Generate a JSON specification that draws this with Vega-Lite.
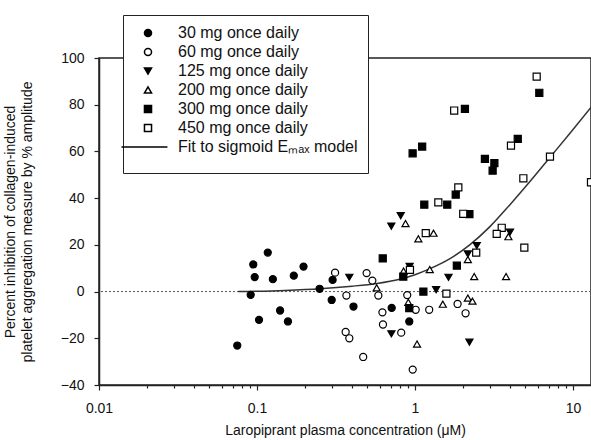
{
  "$schema": "https://vega.github.io/schema/vega-lite/v6.json",
  "width": 492,
  "height": 327,
  "autosize": {"type": "none"},
  "padding": {"left": 99, "top": 58, "right": 0, "bottom": 55},
  "background": "white",
  "config": {
    "font": "Liberation Sans",
    "view": {"stroke": "#222", "strokeWidth": 1.5},
    "axis": {
      "domainColor": "#222", "domainWidth": 1.5,
      "tickColor": "#222", "tickWidth": 1.2,
      "labelFont": "Liberation Sans", "labelFontSize": 14, "labelColor": "#111",
      "titleFont": "Liberation Sans", "titleFontSize": 14, "titleFontWeight": "normal", "titleColor": "#111",
      "grid": false
    }
  },
  "datasets": {
    "fit": [
      {"conc": 0.076, "inhibition": 0.0},
      {"conc": 0.15, "inhibition": 0.5},
      {"conc": 0.25, "inhibition": 1.2},
      {"conc": 0.4, "inhibition": 2.3},
      {"conc": 0.575, "inhibition": 3.5},
      {"conc": 0.8, "inhibition": 5.3},
      {"conc": 1.0, "inhibition": 7.2},
      {"conc": 1.245, "inhibition": 9.8},
      {"conc": 1.666, "inhibition": 14.1},
      {"conc": 2.23, "inhibition": 20.1},
      {"conc": 2.98, "inhibition": 27.8},
      {"conc": 3.99, "inhibition": 37.2},
      {"conc": 5.34, "inhibition": 47.1},
      {"conc": 7.14, "inhibition": 57.4},
      {"conc": 9.57, "inhibition": 67.8},
      {"conc": 13.0, "inhibition": 78.9}
    ],
    "points": [
      {"dose": "30 mg once daily", "conc": 0.075, "inhibition": -23.1},
      {"dose": "30 mg once daily", "conc": 0.0912, "inhibition": -1.4},
      {"dose": "30 mg once daily", "conc": 0.0947, "inhibition": 11.6},
      {"dose": "30 mg once daily", "conc": 0.0967, "inhibition": 6.2},
      {"dose": "30 mg once daily", "conc": 0.103, "inhibition": -12.1},
      {"dose": "30 mg once daily", "conc": 0.117, "inhibition": 16.7},
      {"dose": "30 mg once daily", "conc": 0.126, "inhibition": 5.3},
      {"dose": "30 mg once daily", "conc": 0.14, "inhibition": -8.1},
      {"dose": "30 mg once daily", "conc": 0.157, "inhibition": -12.8},
      {"dose": "30 mg once daily", "conc": 0.171, "inhibition": 6.8},
      {"dose": "30 mg once daily", "conc": 0.197, "inhibition": 10.7},
      {"dose": "30 mg once daily", "conc": 0.249, "inhibition": 1.2},
      {"dose": "30 mg once daily", "conc": 0.301, "inhibition": 5.0},
      {"dose": "30 mg once daily", "conc": 0.297, "inhibition": -3.6},
      {"dose": "30 mg once daily", "conc": 0.408, "inhibition": -6.4},
      {"dose": "30 mg once daily", "conc": 0.712, "inhibition": -7.0},
      {"dose": "30 mg once daily", "conc": 0.92, "inhibition": -12.8},

      {"dose": "60 mg once daily", "conc": 0.312, "inhibition": 8.1},
      {"dose": "60 mg once daily", "conc": 0.368, "inhibition": -1.7},
      {"dose": "60 mg once daily", "conc": 0.364, "inhibition": -17.3},
      {"dose": "60 mg once daily", "conc": 0.384, "inhibition": -20.0},
      {"dose": "60 mg once daily", "conc": 0.47, "inhibition": -28.0},
      {"dose": "60 mg once daily", "conc": 0.494, "inhibition": 7.9},
      {"dose": "60 mg once daily", "conc": 0.537, "inhibition": 4.7},
      {"dose": "60 mg once daily", "conc": 0.586, "inhibition": -1.7},
      {"dose": "60 mg once daily", "conc": 0.622, "inhibition": -8.9},
      {"dose": "60 mg once daily", "conc": 0.627, "inhibition": -14.1},
      {"dose": "60 mg once daily", "conc": 0.818, "inhibition": -17.6},
      {"dose": "60 mg once daily", "conc": 0.893, "inhibition": -1.5},
      {"dose": "60 mg once daily", "conc": 1.01, "inhibition": -7.8},
      {"dose": "60 mg once daily", "conc": 0.967, "inhibition": -33.4},
      {"dose": "60 mg once daily", "conc": 1.23, "inhibition": -7.8},
      {"dose": "60 mg once daily", "conc": 1.86, "inhibition": -5.3},
      {"dose": "60 mg once daily", "conc": 2.09, "inhibition": -9.3},

      {"dose": "125 mg once daily", "conc": 0.384, "inhibition": 6.1},
      {"dose": "125 mg once daily", "conc": 0.812, "inhibition": 32.5},
      {"dose": "125 mg once daily", "conc": 0.708, "inhibition": 28.0},
      {"dose": "125 mg once daily", "conc": 0.925, "inhibition": 10.8},
      {"dose": "125 mg once daily", "conc": 1.63, "inhibition": 6.1},
      {"dose": "125 mg once daily", "conc": 1.36, "inhibition": 0.8},
      {"dose": "125 mg once daily", "conc": 0.709, "inhibition": -18.1},
      {"dose": "125 mg once daily", "conc": 2.21, "inhibition": -21.7},
      {"dose": "125 mg once daily", "conc": 2.46, "inhibition": 19.7},
      {"dose": "125 mg once daily", "conc": 2.16, "inhibition": 16.1},
      {"dose": "125 mg once daily", "conc": 3.99, "inhibition": 25.4},

      {"dose": "200 mg once daily", "conc": 0.871, "inhibition": 29.1},
      {"dose": "200 mg once daily", "conc": 1.05, "inhibition": 22.6},
      {"dose": "200 mg once daily", "conc": 1.31, "inhibition": 25.0},
      {"dose": "200 mg once daily", "conc": 3.9, "inhibition": 23.5},
      {"dose": "200 mg once daily", "conc": 1.24, "inhibition": 9.4},
      {"dose": "200 mg once daily", "conc": 0.846, "inhibition": 8.8},
      {"dose": "200 mg once daily", "conc": 2.16, "inhibition": 13.7},
      {"dose": "200 mg once daily", "conc": 2.37, "inhibition": 6.4},
      {"dose": "200 mg once daily", "conc": 3.77, "inhibition": 6.4},
      {"dose": "200 mg once daily", "conc": 0.572, "inhibition": 1.6},
      {"dose": "200 mg once daily", "conc": 0.907, "inhibition": -4.6},
      {"dose": "200 mg once daily", "conc": 1.5, "inhibition": -5.4},
      {"dose": "200 mg once daily", "conc": 2.16, "inhibition": -2.8},
      {"dose": "200 mg once daily", "conc": 2.31, "inhibition": -4.1},
      {"dose": "200 mg once daily", "conc": 1.03, "inhibition": -22.5},

      {"dose": "300 mg once daily", "conc": 6.12, "inhibition": 85.1},
      {"dose": "300 mg once daily", "conc": 2.07, "inhibition": 78.2},
      {"dose": "300 mg once daily", "conc": 4.47, "inhibition": 65.4},
      {"dose": "300 mg once daily", "conc": 1.11, "inhibition": 62.1},
      {"dose": "300 mg once daily", "conc": 0.966, "inhibition": 59.2},
      {"dose": "300 mg once daily", "conc": 2.77, "inhibition": 56.8},
      {"dose": "300 mg once daily", "conc": 3.18, "inhibition": 55.0},
      {"dose": "300 mg once daily", "conc": 3.1, "inhibition": 51.8},
      {"dose": "300 mg once daily", "conc": 1.81, "inhibition": 41.5},
      {"dose": "300 mg once daily", "conc": 1.6, "inhibition": 37.2},
      {"dose": "300 mg once daily", "conc": 1.145, "inhibition": 37.2},
      {"dose": "300 mg once daily", "conc": 2.21, "inhibition": 33.2},
      {"dose": "300 mg once daily", "conc": 0.625, "inhibition": 14.2},
      {"dose": "300 mg once daily", "conc": 0.843, "inhibition": 6.4},
      {"dose": "300 mg once daily", "conc": 1.84, "inhibition": 11.1},
      {"dose": "300 mg once daily", "conc": 1.13, "inhibition": 0.0},
      {"dose": "300 mg once daily", "conc": 0.92, "inhibition": -7.1},

      {"dose": "450 mg once daily", "conc": 5.89, "inhibition": 92.0},
      {"dose": "450 mg once daily", "conc": 1.77, "inhibition": 77.5},
      {"dose": "450 mg once daily", "conc": 4.05, "inhibition": 62.5},
      {"dose": "450 mg once daily", "conc": 7.15, "inhibition": 57.8},
      {"dose": "450 mg once daily", "conc": 4.85, "inhibition": 48.5},
      {"dose": "450 mg once daily", "conc": 13.0, "inhibition": 46.8},
      {"dose": "450 mg once daily", "conc": 1.88, "inhibition": 44.6},
      {"dose": "450 mg once daily", "conc": 1.405, "inhibition": 38.2},
      {"dose": "450 mg once daily", "conc": 2.02, "inhibition": 33.3},
      {"dose": "450 mg once daily", "conc": 1.17, "inhibition": 25.0},
      {"dose": "450 mg once daily", "conc": 3.54, "inhibition": 27.3},
      {"dose": "450 mg once daily", "conc": 3.29, "inhibition": 24.7},
      {"dose": "450 mg once daily", "conc": 2.44, "inhibition": 16.7},
      {"dose": "450 mg once daily", "conc": 4.92, "inhibition": 18.8},
      {"dose": "450 mg once daily", "conc": 1.58, "inhibition": -0.9},
      {"dose": "450 mg once daily", "conc": 0.929, "inhibition": 9.3}
    ]
  },
  "layer": [
    {
      "data": {"values": [{"inhibition": 0}]},
      "mark": {"type": "rule", "strokeDash": [2, 2], "color": "#555", "strokeWidth": 1},
      "encoding": {
        "y": {"field": "inhibition", "type": "quantitative", "scale": {"domain": [-40, 100], "nice": false, "zero": false},
          "axis": {"title": ["Percent inhibition of collagen-induced", "platelet aggregation measure by % amplitude"], "values": [-40, -20, 0, 20, 40, 60, 80, 100], "tickSize": 5, "labelPadding": 10, "titlePadding": 26, "titleLineHeight": 17}}
      }
    },
    {
      "data": {"name": "fit"},
      "mark": {"type": "line", "color": "#333", "strokeWidth": 1.5, "interpolate": "monotone"},
      "encoding": {
        "x": {"field": "conc", "type": "quantitative", "scale": {"type": "log", "domain": [0.01, 13], "nice": false},
          "axis": {"title": "Laropiprant plasma concentration (μM)", "values": [0.01, 0.02, 0.03, 0.04, 0.05, 0.06, 0.07, 0.08, 0.09, 0.1, 0.2, 0.3, 0.4, 0.5, 0.6, 0.7, 0.8, 0.9, 1, 2, 3, 4, 5, 6, 7, 8, 9, 10], "format": "~g", "labelExpr": "datum.value == 0.01 || datum.value == 0.1 || datum.value == 1 || datum.value == 10 ? datum.label : ''", "tickSize": {"expr": "datum.value == 0.01 || datum.value == 0.1 || datum.value == 1 || datum.value == 10 ? 5 : 3"}, "labelPadding": 11, "titlePadding": 8, "labelFlush": false, "labelOverlap": false}},
        "y": {"field": "inhibition", "type": "quantitative", "scale": {"domain": [-40, 100], "nice": false, "zero": false},
          "axis": {"title": ["Percent inhibition of collagen-induced", "platelet aggregation measure by % amplitude"], "values": [-40, -20, 0, 20, 40, 60, 80, 100], "tickSize": 5, "labelPadding": 10, "titlePadding": 26, "titleLineHeight": 17}}
      }
    },
    {
      "data": {"name": "points"},
      "mark": {"type": "point", "stroke": "black", "strokeWidth": 1.2, "opacity": 1, "fillOpacity": 1, "size": 50},
      "encoding": {
        "x": {"field": "conc", "type": "quantitative", "scale": {"type": "log", "domain": [0.01, 13], "nice": false},
          "axis": {"title": "Laropiprant plasma concentration (μM)", "values": [0.01, 0.02, 0.03, 0.04, 0.05, 0.06, 0.07, 0.08, 0.09, 0.1, 0.2, 0.3, 0.4, 0.5, 0.6, 0.7, 0.8, 0.9, 1, 2, 3, 4, 5, 6, 7, 8, 9, 10], "format": "~g", "labelExpr": "datum.value == 0.01 || datum.value == 0.1 || datum.value == 1 || datum.value == 10 ? datum.label : ''", "tickSize": {"expr": "datum.value == 0.01 || datum.value == 0.1 || datum.value == 1 || datum.value == 10 ? 5 : 3"}, "labelPadding": 11, "titlePadding": 8, "labelFlush": false, "labelOverlap": false}},
        "y": {"field": "inhibition", "type": "quantitative", "scale": {"domain": [-40, 100], "nice": false, "zero": false},
          "axis": {"title": ["Percent inhibition of collagen-induced", "platelet aggregation measure by % amplitude"], "values": [-40, -20, 0, 20, 40, 60, 80, 100], "tickSize": 5, "labelPadding": 10, "titlePadding": 26, "titleLineHeight": 17}},
        "shape": {"field": "dose", "type": "nominal",
          "scale": {"domain": ["30 mg once daily", "60 mg once daily", "125 mg once daily", "200 mg once daily", "300 mg once daily", "450 mg once daily", "Fit to sigmoid Eₘₐₓ model"],
            "range": ["circle", "circle", "triangle-down", "triangle-up", "square", "square", "M-7.5,0L5.5,0"]},
          "legend": {"orient": "none", "legendX": 24, "legendY": -43, "title": " ", "titleOrient": "bottom", "titleFontSize": 6, "titlePadding": 2, "fillColor": "white", "strokeColor": "#222", "padding": 10, "labelFont": "Liberation Sans", "labelFontSize": 16, "labelColor": "#111", "symbolSize": 50, "symbolOffset": 7, "rowPadding": 3, "labelOffset": 22, "labelLimit": 400,
            "encode": {"symbols": {"update": {"stroke": {"value": "black"}, "strokeWidth": {"value": 1.2}, "opacity": {"value": 1}}}}}},
        "fill": {"field": "dose", "type": "nominal",
          "scale": {"domain": ["30 mg once daily", "60 mg once daily", "125 mg once daily", "200 mg once daily", "300 mg once daily", "450 mg once daily", "Fit to sigmoid Eₘₐₓ model"],
            "range": ["black", "white", "black", "white", "black", "white", "transparent"]},
          "legend": {"orient": "none", "legendX": 24, "legendY": -43, "title": " ", "titleOrient": "bottom", "titleFontSize": 6, "titlePadding": 2, "fillColor": "white", "strokeColor": "#222", "padding": 10, "labelFont": "Liberation Sans", "labelFontSize": 16, "labelColor": "#111", "symbolSize": 50, "symbolOffset": 7, "rowPadding": 3, "labelOffset": 22, "labelLimit": 400,
            "encode": {"symbols": {"update": {"stroke": {"value": "black"}, "strokeWidth": {"value": 1.2}, "opacity": {"value": 1}}}}}}
      }
    }
  ]
}
